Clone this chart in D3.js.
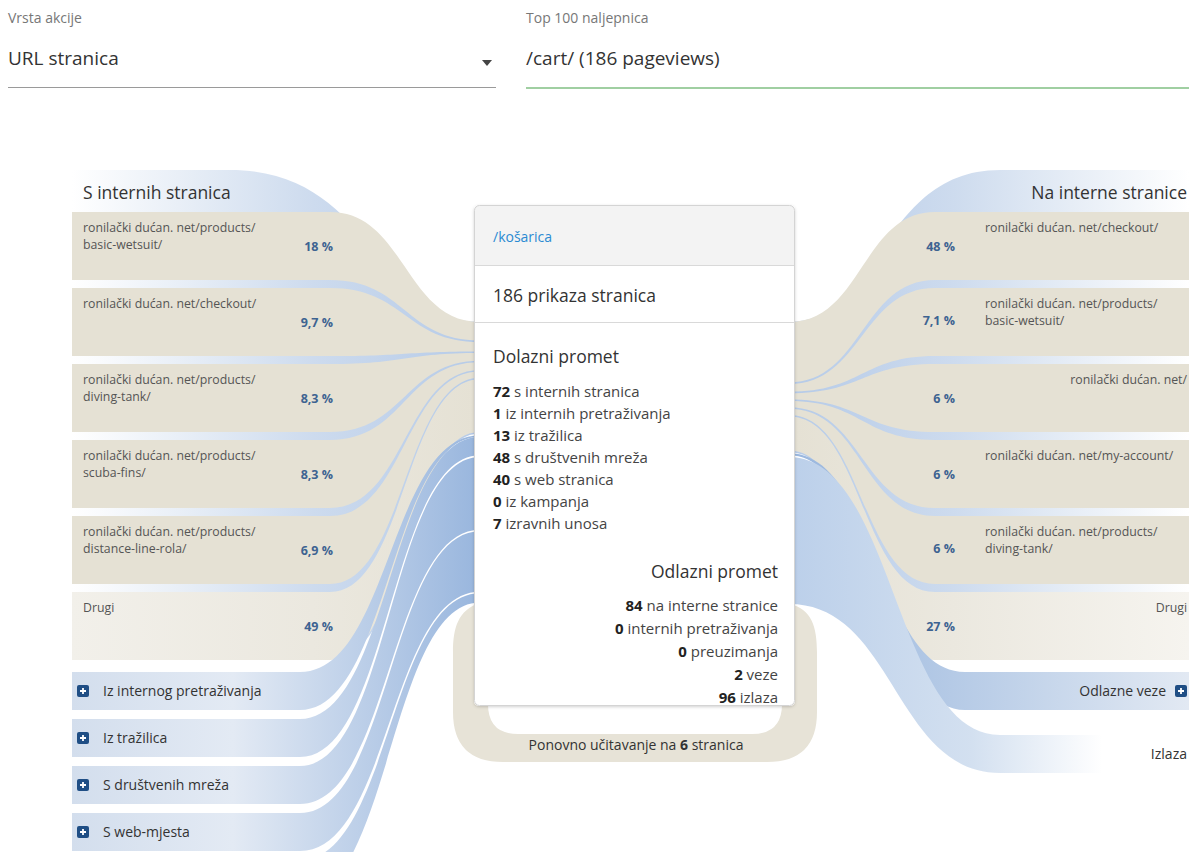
<!DOCTYPE html>
<html>
<head>
<meta charset="utf-8">
<script src="https://cdnjs.cloudflare.com/ajax/libs/d3/7.8.5/d3.min.js"></script>
<style>
  body { margin: 0; background: #fff; }
  svg text { font-family: "Open Sans", sans-serif; }
</style>
</head>
<body>
<div id="chart"></div>
<script>
// Data
var pageTitle = "/košarica";
var pageviews = 186;
var reloads = 6;

var leftLabels = [
  ["ronilački dućan. net/products/", "basic-wetsuit/"],
  ["ronilački dućan. net/checkout/"],
  ["ronilački dućan. net/products/", "diving-tank/"],
  ["ronilački dućan. net/products/", "scuba-fins/"],
  ["ronilački dućan. net/products/", "distance-line-rola/"],
  ["Drugi"]
];
var leftShares = ["18 %", "9,7 %", "8,3 %", "8,3 %", "6,9 %", "49 %"];
var leftCounts = [13, 7, 6, 6, 5, 35];

var rightLabels = [
  ["ronilački dućan. net/checkout/"],
  ["ronilački dućan. net/products/", "basic-wetsuit/"],
  ["ronilački dućan. net/"],
  ["ronilački dućan. net/my-account/"],
  ["ronilački dućan. net/products/", "diving-tank/"],
  ["Drugi"]
];
var rightShares = ["48 %", "7,1 %", "6 %", "6 %", "6 %", "27 %"];
var rightCounts = [40, 6, 5, 5, 5, 23];

var incomingCounts = [72, 1, 13, 48, 40, 0, 7];
var incomingText = ["s internih stranica", "iz internih pretraživanja", "iz tražilica", "s društvenih mreža", "s web stranica", "iz kampanja", "izravnih unosa"];
var outgoingCounts = [84, 0, 0, 2, 96];
var outgoingText = ["na interne stranice", "internih pretraživanja", "preuzimanja", "veze", "izlaza"];

var leftGroups = ["Iz internog pretraživanja", "Iz tražilica", "S društvenih mreža", "S web-mjesta", "Izravni unosi"];
var leftGroupCounts = [1, 13, 48, 40, 7];
var rightGroups = ["Odlazne veze", "Izlaza"];
var rightGroupCounts = [2, 96];

var svgWidth = 1189;
var svgHeight = 852;

var svg = d3.select("#chart")
  .append("svg")
  .attr("width", svgWidth)
  .attr("height", svgHeight)
  .style("display", "block");

var defs = svg.append("defs");

function linGrad(id, x1, x2, stops) {
  var g = defs.append("linearGradient")
    .attr("id", id)
    .attr("gradientUnits", "userSpaceOnUse")
    .attr("x1", x1).attr("x2", x2).attr("y1", 0).attr("y2", 0);
  stops.forEach(function(s) {
    g.append("stop").attr("offset", s[0]).attr("stop-color", s[1]);
  });
}

var boxLeft = 474, boxRight = 795, boxTop = 205, boxBottom = 706;

linGrad("groupL", 72, boxLeft, [[0, "#ffffff"], [0.3, "#e6edf6"], [0.6, "#cddbee"], [1, "#b6cbe8"]]);
linGrad("groupR", svgWidth, boxRight, [[0, "#ffffff"], [0.3, "#e6edf6"], [0.6, "#cddbee"], [1, "#b6cbe8"]]);
linGrad("otherL", 72, boxLeft, [[0, "#f2f0ea"], [0.6, "#ebe8df"], [1, "#e5e1d4"]]);
linGrad("otherR", svgWidth, boxRight, [[0, "#f6f4ef"], [0.6, "#ebe8df"], [1, "#e5e1d4"]]);
linGrad("flowL", 72, boxLeft, [[0, "#d3deed"], [0.4, "#e3eaf4"], [1, "#9ab7de"]]);
linGrad("flowR", boxRight, svgWidth, [[0, "#9ab7de"], [0.5, "#bccfe8"], [1, "#e2e9f3"]]);
linGrad("exitR", boxRight, svgWidth, [[0, "#bcd0ea"], [0.45, "#d3e0f0"], [0.78, "#ffffff"]]);

var shadow = defs.append("filter").attr("id", "shadow").attr("x", "-10%").attr("y", "-10%").attr("width", "120%").attr("height", "120%");
shadow.append("feDropShadow").attr("dx", 0).attr("dy", 1).attr("stdDeviation", 1.5).attr("flood-opacity", 0.18);

// Step 1: Header with the two selectors
// ==============================
var header = svg.append("g");
header.append("text").attr("x", 8).attr("y", 23).attr("font-size", 14).attr("fill", "#777").text("Vrsta akcije");
header.append("text").attr("x", 8).attr("y", 65).attr("font-size", 19).attr("fill", "#333").text("URL stranica");
header.append("path").attr("d", "M482,60 L492,60 L487,66 Z").attr("fill", "#444");
header.append("line").attr("x1", 8).attr("x2", 496).attr("y1", 87.5).attr("y2", 87.5).attr("stroke", "#9a9a9a");
header.append("text").attr("x", 526).attr("y", 23).attr("font-size", 14).attr("fill", "#777").text("Top 100 naljepnica");
header.append("text").attr("x", 526).attr("y", 65).attr("font-size", 19).attr("fill", "#333").text("/cart/ (" + pageviews + " pageviews)");
header.append("line").attr("x1", 526).attr("x2", svgWidth).attr("y1", 88).attr("y2", 88).attr("stroke", "#43a047").attr("stroke-width", 1.2);

// Step 2: Scales
// ==============================
var totalIn = d3.sum(incomingCounts);
var totalOut = d3.sum(outgoingCounts);
var flowY = d3.scaleLinear()
  .domain([0, d3.max([totalIn, totalOut])])
  .range([322, 322 + 1.55 * d3.max([totalIn, totalOut])]);

var itemBand = d3.scaleBand().domain(d3.range(leftCounts.length)).range([212, 660]).paddingInner(8 / 76);
var leftGroupBand = d3.scaleBand().domain(d3.range(leftGroups.length)).range([672, 898]).paddingInner(9 / 47);
var rightGroupBand = d3.scaleBand().domain(d3.range(rightGroups.length)).range([672, 773]).paddingInner(25 / 63);

// flat part from x0 to xs, then a curve into the box edge x1
function ribbon(x0, a0, a1, xs, x1, b0, b1) {
  var mx = (xs + x1) / 2;
  return "M" + x0 + "," + a0 + "H" + xs +
    "C" + mx + "," + a0 + " " + mx + "," + b0 + " " + x1 + "," + b0 +
    "V" + b1 +
    "C" + mx + "," + b1 + " " + mx + "," + a1 + " " + xs + "," + a1 +
    "H" + x0 + "Z";
}

function stack(counts, start) {
  var acc = start;
  return counts.map(function(c) {
    var s = acc;
    acc += c;
    return [s, acc];
  });
}

var gap = 1.6;
var leftEdge = boxLeft + 6, rightEdge = boxRight - 6;

// Step 3: Internal page groups (left and right)
// ==============================
var internalIn = incomingCounts[0];
var internalOut = outgoingCounts[0];

svg.append("path")
  .attr("d", "M72,170H230C375,170 375," + flowY(0) + " " + leftEdge + "," + flowY(0) +
    "V" + flowY(internalIn) + "C407," + flowY(internalIn) + " 407,657 335,657H72Z")
  .attr("fill", "url(#groupL)");

svg.append("path")
  .attr("d", "M" + svgWidth + ",170H1000C880,170 880," + flowY(0) + " " + rightEdge + "," + flowY(0) +
    "V" + flowY(internalOut) + "C865," + flowY(internalOut) + " 865,657 935,657H" + svgWidth + "Z")
  .attr("fill", "url(#groupR)");

svg.append("text").attr("x", 83).attr("y", 199).attr("font-size", 17.5).attr("fill", "#333").text("S internih stranica");
svg.append("text").attr("x", 1187).attr("y", 199).attr("font-size", 17.5).attr("fill", "#333").attr("text-anchor", "end").text("Na interne stranice");

var leftStack = stack(leftCounts, 0);
var leftItems = svg.append("g").selectAll("g")
  .data(leftCounts)
  .enter()
  .append("g");

leftItems.append("path")
  .attr("d", function(d, i) {
    var y0 = itemBand(i), y1 = y0 + itemBand.bandwidth();
    return ribbon(72, y0, y1, 330, leftEdge, flowY(leftStack[i][0]), flowY(leftStack[i][1]) - gap);
  })
  .attr("fill", function(d, i) { return i === leftCounts.length - 1 ? "url(#otherL)" : "#e5e1d4"; });

leftItems.each(function(d, i) {
  var g = d3.select(this);
  var top = itemBand(i);
  leftLabels[i].forEach(function(line, j) {
    g.append("text").attr("x", 83).attr("y", top + 19.5 + j * 17)
      .attr("font-size", 12.3).attr("fill", "#555").text(line);
  });
  g.append("text").attr("x", 333).attr("y", top + 39).attr("text-anchor", "end")
    .attr("font-size", 12.5).attr("font-weight", "bold").attr("fill", "#3d6391").text(leftShares[i]);
});

var rightStack = stack(rightCounts, 0);
var rightItems = svg.append("g").selectAll("g")
  .data(rightCounts)
  .enter()
  .append("g");

rightItems.append("path")
  .attr("d", function(d, i) {
    var y0 = itemBand(i), y1 = y0 + itemBand.bandwidth();
    return ribbon(svgWidth, y0, y1, 935, rightEdge, flowY(rightStack[i][0]), flowY(rightStack[i][1]) - gap);
  })
  .attr("fill", function(d, i) { return i === rightCounts.length - 1 ? "url(#otherR)" : "#e5e1d4"; });

rightItems.each(function(d, i) {
  var g = d3.select(this);
  var top = itemBand(i);
  var last = i === rightCounts.length - 1;
  var single = rightLabels[i].length === 1 && rightLabels[i][0].length < 24;
  rightLabels[i].forEach(function(line, j) {
    g.append("text")
      .attr("x", last || single ? 1187 : 985)
      .attr("text-anchor", last || single ? "end" : "start")
      .attr("y", top + 20 + j * 17)
      .attr("font-size", 12.3).attr("fill", "#555").text(line);
  });
  var multi = rightLabels[i].length > 1;
  g.append("text").attr("x", 955).attr("y", top + (multi ? 37 : 39)).attr("text-anchor", "end")
    .attr("font-size", 12.5).attr("font-weight", "bold").attr("fill", "#3d6391").text(rightShares[i]);
});

// Step 4: Other incoming / outgoing groups (blue)
// ==============================
function plusIcon(g, x, y) {
  g.append("rect").attr("x", x).attr("y", y - 6).attr("width", 12).attr("height", 12).attr("rx", 2).attr("fill", "#1f4e85");
  g.append("path").attr("d", "M" + (x + 3) + "," + y + "H" + (x + 9) + "M" + (x + 6) + "," + (y - 3) + "V" + (y + 3))
    .attr("stroke", "#fff").attr("stroke-width", 1.8);
}

var leftGroupStack = stack(leftGroupCounts, internalIn);
var lg = svg.append("g").selectAll("g")
  .data(leftGroupCounts)
  .enter()
  .append("g");

lg.append("path")
  .attr("d", function(d, i) {
    var y0 = leftGroupBand(i), y1 = y0 + leftGroupBand.bandwidth();
    var c0 = flowY(leftGroupStack[i][0]) + gap;
    var c1 = Math.max(flowY(leftGroupStack[i][1]), c0 + 1.5);
    return ribbon(72, y0, y1, 300, leftEdge, c0, c1);
  })
  .attr("fill", "url(#flowL)");

lg.each(function(d, i) {
  var y = leftGroupBand(i) + leftGroupBand.bandwidth() / 2;
  if (y > svgHeight) return;
  var g = d3.select(this);
  plusIcon(g, 77, y);
  g.append("text").attr("x", 103).attr("y", y + 5).attr("font-size", 14).attr("fill", "#333").text(leftGroups[i]);
});

// outgoing links sit after internal pages, searches and downloads
var rightGroupStack = stack(rightGroupCounts, d3.sum(outgoingCounts.slice(0, 3)));
var rightStarts = [965, 1000];
var rightFills = ["url(#flowR)", "url(#exitR)"];
var rg = svg.append("g").selectAll("g")
  .data(rightGroupCounts)
  .enter()
  .append("g");

rg.append("path")
  .attr("d", function(d, i) {
    var y0 = rightGroupBand(i), y1 = y0 + rightGroupBand.bandwidth();
    var c0 = flowY(rightGroupStack[i][0]) + (i ? gap : 1);
    var c1 = Math.max(flowY(rightGroupStack[i][1]), c0 + 2);
    return ribbon(svgWidth, y0, y1, rightStarts[i], rightEdge, c0, c1);
  })
  .attr("fill", function(d, i) { return rightFills[i]; });

rg.each(function(d, i) {
  var y = rightGroupBand(i) + rightGroupBand.bandwidth() / 2;
  var g = d3.select(this);
  if (i === 0) {
    plusIcon(g, 1175, y);
    g.append("text").attr("x", 1166).attr("y", y + 5).attr("text-anchor", "end").attr("font-size", 14).attr("fill", "#333").text(rightGroups[i]);
  } else {
    g.append("text").attr("x", 1187).attr("y", y + 5).attr("text-anchor", "end").attr("font-size", 14).attr("fill", "#333").text(rightGroups[i]);
  }
});

// Step 5: Reload loop under the box
// ==============================
var loopTop = flowY(totalIn);
svg.append("path")
  .attr("d",
    "M" + leftEdge + "," + loopTop + "C458," + (loopTop + 8) + " 453," + (loopTop + 25) + " 453," + (loopTop + 50) +
    "V712Q453,762 503,762H767Q817,762 817,712V" + (loopTop + 50) +
    "C817," + (loopTop + 25) + " 812," + (loopTop + 6) + " " + rightEdge + "," + flowY(totalOut) + "Z" +
    "M488,650V704Q488,734 518,734H752Q782,734 782,704V650Z")
  .attr("fill", "#e7e3d7")
  .attr("fill-rule", "evenodd");

var reloadText = svg.append("text").attr("x", 636).attr("y", 750).attr("text-anchor", "middle")
  .attr("font-size", 14).attr("fill", "#333");
reloadText.append("tspan").text("Ponovno učitavanje na ");
reloadText.append("tspan").attr("font-weight", "bold").text(reloads);
reloadText.append("tspan").text(" stranica");

// Step 6: Centre box with the totals
// ==============================
var box = svg.append("g");
box.append("rect").attr("x", boxLeft).attr("y", boxTop).attr("width", boxRight - boxLeft).attr("height", boxBottom - boxTop)
  .attr("rx", 5).attr("fill", "#fff").attr("filter", "url(#shadow)");
box.append("rect").attr("x", boxLeft).attr("y", boxTop).attr("width", boxRight - boxLeft).attr("height", 60)
  .attr("rx", 5).attr("fill", "#f3f3f3");
box.append("rect").attr("x", boxLeft).attr("y", boxTop + 30).attr("width", boxRight - boxLeft).attr("height", 30)
  .attr("fill", "#f3f3f3");
box.append("line").attr("x1", boxLeft).attr("x2", boxRight).attr("y1", 265.5).attr("y2", 265.5).attr("stroke", "#d9d9d9");
box.append("line").attr("x1", boxLeft).attr("x2", boxRight).attr("y1", 322.5).attr("y2", 322.5).attr("stroke", "#d9d9d9");
box.append("rect").attr("x", boxLeft + 0.5).attr("y", boxTop + 0.5).attr("width", boxRight - boxLeft - 1).attr("height", boxBottom - boxTop - 1)
  .attr("rx", 5).attr("fill", "none").attr("stroke", "#d4d4d4");

box.append("text").attr("x", 493).attr("y", 242).attr("font-size", 14).attr("fill", "#2a8ad2").text(pageTitle);
box.append("text").attr("x", 493).attr("y", 302).attr("font-size", 17.5).attr("fill", "#333").text(pageviews + " prikaza stranica");
box.append("text").attr("x", 493).attr("y", 363).attr("font-size", 17.5).attr("fill", "#333").text("Dolazni promet");

box.selectAll(".incoming")
  .data(incomingCounts)
  .enter()
  .append("text")
  .attr("class", "incoming")
  .attr("x", 493)
  .attr("y", function(d, i) { return 397 + i * 22; })
  .attr("font-size", 15)
  .attr("fill", "#444")
  .each(function(d, i) {
    var t = d3.select(this);
    t.append("tspan").attr("font-weight", "bold").attr("fill", "#222").text(d);
    t.append("tspan").text(" " + incomingText[i]);
  });

box.append("text").attr("x", 778).attr("y", 578).attr("text-anchor", "end").attr("font-size", 17.5).attr("fill", "#333").text("Odlazni promet");

box.selectAll(".outgoing")
  .data(outgoingCounts)
  .enter()
  .append("text")
  .attr("class", "outgoing")
  .attr("x", 778)
  .attr("y", function(d, i) { return 611 + i * 23; })
  .attr("text-anchor", "end")
  .attr("font-size", 15)
  .attr("fill", "#444")
  .each(function(d, i) {
    var t = d3.select(this);
    t.append("tspan").attr("font-weight", "bold").attr("fill", "#222").text(d);
    t.append("tspan").text(" " + outgoingText[i]);
  });
</script>
</body>
</html>
